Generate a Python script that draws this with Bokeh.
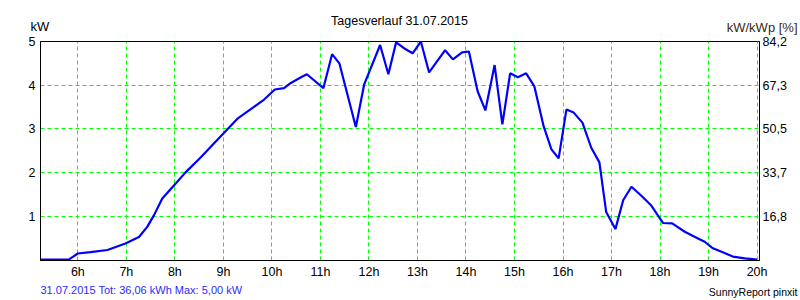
from bokeh.plotting import figure
from bokeh.models import Range1d, LinearAxis, FixedTicker
from bokeh.layouts import column
from bokeh.core.properties import value
from bokeh.embed import file_html
from bokeh.resources import INLINE

# ---- data ----
hours = [5.23, 5.81, 6.0, 6.26, 6.61, 6.98, 7.26, 7.43, 7.57, 7.74, 7.98, 8.22, 8.53,
         8.98, 9.29, 9.63, 9.84, 10.06, 10.25, 10.39, 10.60, 10.72, 11.06, 11.24, 11.39,
         11.73, 11.90, 12.23, 12.40, 12.56, 12.73, 12.90, 13.07, 13.24, 13.57, 13.73,
         13.92, 14.06, 14.24, 14.40, 14.59, 14.75, 14.91, 15.07, 15.24, 15.41, 15.60,
         15.76, 15.91, 16.07, 16.22, 16.40, 16.58, 16.75, 16.89, 17.08, 17.24, 17.41,
         17.61, 17.82, 18.06, 18.25, 18.51, 18.72, 18.92, 19.09, 19.33, 19.50, 19.75, 20.0]
kw = [0, 0, 0.14, 0.17, 0.22, 0.37, 0.52, 0.75, 1.02, 1.40, 1.70, 2.0, 2.34,
      2.87, 3.23, 3.50, 3.67, 3.90, 3.93, 4.05, 4.18, 4.25, 3.93, 4.71, 4.50,
      3.04, 4.01, 4.92, 4.25, 4.98, 4.84, 4.73, 5.00, 4.29, 4.80, 4.59,
      4.75, 4.77, 3.86, 3.42, 4.46, 3.10, 4.27, 4.18, 4.27, 3.97, 3.06,
      2.53, 2.32, 3.44, 3.37, 3.14, 2.57, 2.23, 1.09, 0.70, 1.36, 1.67,
      1.47, 1.24, 0.84, 0.83, 0.64, 0.52, 0.41, 0.26, 0.15, 0.07, 0.03, 0.0]

x_ticks = [6, 7, 8, 9, 10, 11, 12, 13, 14, 15, 16, 17, 18, 19, 20]
x_tick_labels = ["6h", "7h", "8h", "9h", "10h", "11h", "12h", "13h", "14h",
                 "15h", "16h", "17h", "18h", "19h", "20h"]
y_ticks = [1, 2, 3, 4, 5]
y_tick_labels = ["1", "2", "3", "4", "5"]
pct_tick_labels = ["16,8", "33,7", "50,5", "67,3", "84,2"]

title_text = "Tagesverlauf 31.07.2015"
left_unit = "kW"
right_unit = "kW/kWp [%]"
footer_left = "31.07.2015 Tot: 36,06 kWh Max: 5,00 kW"
footer_right = "SunnyReport pinxit"

FONT = "Liberation Sans"
W = 800
HEAD_H, FOOT_H = 35, 19
FL, FR, FT, FB = 40, 41, 6, 20
FRAME_H = 220
MAIN_H = FT + FRAME_H + FB


def text_strip(h):
    f = figure(width=W, height=h, output_backend="svg", toolbar_location=None,
               x_range=Range1d(0, W), y_range=Range1d(h, 0),
               x_axis_location=None, y_axis_location=None,
               min_border=0, min_border_left=0, min_border_right=0,
               min_border_top=0, min_border_bottom=0, frame_align=False)
    f.outline_line_color = None
    f.xgrid.visible = False
    f.ygrid.visible = False
    return f


def put(f, text, x, y, size, color, align):
    f.text(x=[x], y=[y], text=[text], text_font=value(FONT), text_font_size=size,
           text_color=color, text_align=align, text_baseline="middle")


# header strip
head = text_strip(HEAD_H)
put(head, title_text, 399, 20, "12.5px", "black", "center")
put(head, left_unit, 30, 26, "13px", "black", "left")
put(head, right_unit, 797, 27, "13px", "#3a2a10", "right")

# main chart
p = figure(width=W, height=MAIN_H, output_backend="svg", toolbar_location=None,
           x_range=Range1d(5.23, 20.05), y_range=Range1d(-0.02, 5.0),
           min_border_left=FL, min_border_right=FR, min_border_top=FT,
           min_border_bottom=FB, background_fill_color="white",
           border_fill_color="white", frame_align=False)
p.outline_line_color = "black"
p.outline_line_width = 1

p.line(hours, kw, line_color="#0000ff", line_width=2.2)

for g in (p.xgrid, p.ygrid):
    g.grid_line_color = "#00ff00"
    g.grid_line_dash = "4 3"
    g.grid_line_width = 1
p.xgrid.ticker = FixedTicker(ticks=x_ticks)
p.ygrid.ticker = FixedTicker(ticks=y_ticks)


def style_axis(ax, standoff):
    ax.axis_line_color = "black"
    ax.axis_line_width = 1
    ax.major_tick_line_color = None
    ax.minor_tick_line_color = None
    ax.major_tick_out = 0
    ax.major_tick_in = 0
    ax.minor_tick_out = 0
    ax.minor_tick_in = 0
    ax.major_label_text_font = FONT
    ax.major_label_text_font_size = "12.5px"
    ax.major_label_text_color = "black"
    ax.major_label_standoff = standoff


xa = p.xaxis[0]
xa.ticker = FixedTicker(ticks=x_ticks)
xa.major_label_overrides = {t: l for t, l in zip(x_ticks, x_tick_labels)}
style_axis(xa, 4)

ya = p.yaxis[0]
ya.ticker = FixedTicker(ticks=y_ticks)
ya.major_label_overrides = {t: l for t, l in zip(y_ticks, y_tick_labels)}
style_axis(ya, 5)

ra = LinearAxis()
ra.ticker = FixedTicker(ticks=y_ticks)
ra.major_label_overrides = {t: l for t, l in zip(y_ticks, pct_tick_labels)}
style_axis(ra, 3)
p.add_layout(ra, "right")

# footer strip
foot = text_strip(FOOT_H)
put(foot, footer_left, 40, 8, "11px", "#2a2aff", "left")
put(foot, footer_right, 797, 10, "10.5px", "black", "right")

layout = column(head, p, foot, spacing=0)
open("out.html", "w").write(file_html(layout, INLINE))
